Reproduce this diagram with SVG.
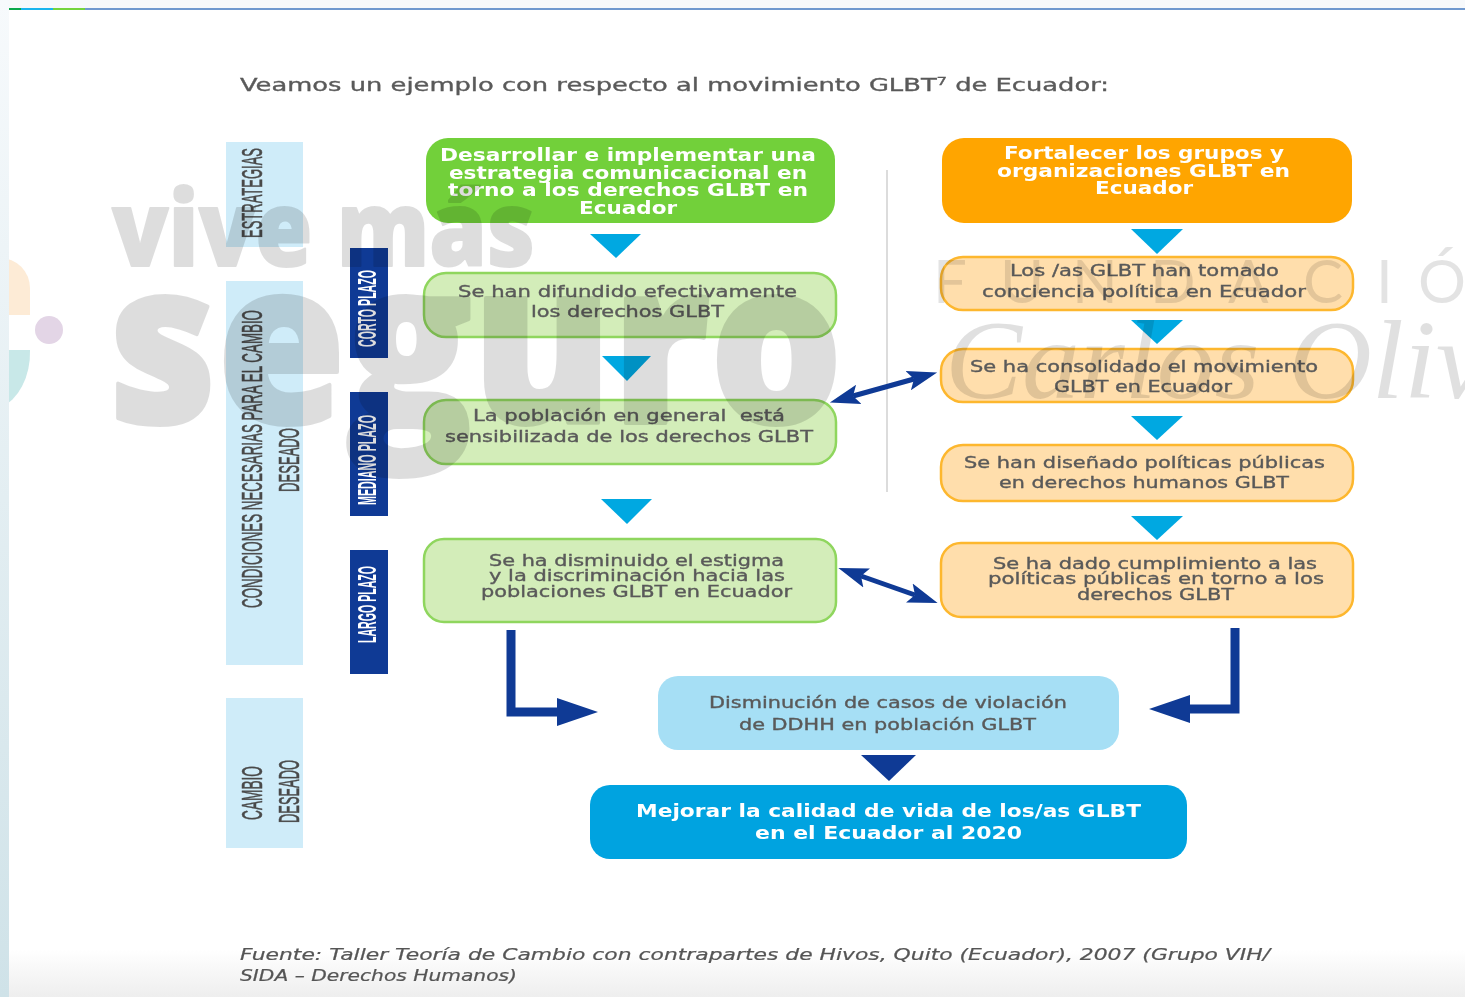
<svg xmlns="http://www.w3.org/2000/svg" width="1465" height="997" viewBox="0 0 1465 997">
<defs>
<style>
text{font-family:"DejaVu Sans",Verdana,sans-serif}
.b{font-size:15px;fill:#5a5a5a;stroke:#5a5a5a;stroke-width:.35px}
.w{font-size:17px;font-weight:700;fill:#fff}
.c{font-family:"Liberation Sans",Arial,sans-serif;font-size:29px;fill:#4a4a4a;stroke:#4a4a4a;stroke-width:.6px}
.n{font-family:"Liberation Sans",Arial,sans-serif;font-size:25px;font-weight:700;fill:#fff}
.f{font-size:15px;font-style:italic;fill:#555;stroke:#555;stroke-width:.2px}
.p{fill:#cfecf9}.d{fill:#0f3a95}.t{fill:#00a8e1}
.g{fill:#d3edb9;stroke:#8fd65e;stroke-width:2.5}
.o{fill:#ffdeac;stroke:#fdb72e;stroke-width:2.5}
.l{fill:none;stroke:#0f3a95;stroke-width:5}
.L{fill:none;stroke:#0f3a95;stroke-width:9;stroke-linejoin:miter}
.wm{opacity:.13}
.m{font-family:"Open Sans",sans-serif;font-weight:800;fill:#000;stroke:#000;stroke-linejoin:round}
.z{font-family:"Lato",sans-serif;font-weight:400;font-size:60px;fill:#000;fill-opacity:.11}
.s{font-family:"Liberation Serif",serif;font-style:italic;font-size:112px;fill:#000;fill-opacity:.12}
.x{filter:url(#soft)}
</style>
<filter id="soft" x="-5%" y="-5%" width="110%" height="110%"><feGaussianBlur stdDeviation="0.55"/></filter>
<linearGradient id="side" x1="0" y1="0" x2="0" y2="1"><stop offset="0" stop-color="#f7fafc"/><stop offset="1" stop-color="#cfe2e8"/></linearGradient>
<linearGradient id="foot" x1="0" y1="0" x2="0" y2="1"><stop offset="0" stop-color="#fff"/><stop offset="1" stop-color="#eeeeee"/></linearGradient>
<marker id="h" markerUnits="userSpaceOnUse" markerWidth="34" markerHeight="22" refX="6" refY="11" orient="auto-start-reverse"><path d="M0 1L30 11L0 21L6 11Z" fill="#0f3a95"/></marker>
<marker id="H" markerUnits="userSpaceOnUse" markerWidth="44" markerHeight="30" refX="1" refY="14" orient="auto"><path d="M0 0L41 14L0 28Z" fill="#0f3a95"/></marker>
</defs>
<rect width="1465" height="997" fill="#fff"/>
<rect y="950" width="1465" height="47" fill="url(#foot)"/>
<rect width="1465" height="8" fill="#f7f9fb"/>
<rect x="85" y="8" width="1380" height="2" fill="#7099cf"/>
<rect x="9" y="8" width="12" height="2" fill="#0aa84a"/>
<rect x="21" y="8" width="32" height="2" fill="#19b5ee"/>
<rect x="53" y="8" width="32" height="2" fill="#74d43c"/>
<g id="brand-dots">
<path d="M0 258A30 30 0 0 1 30 288V315H0Z" fill="#fdebd6"/>
<path d="M0 350H30A42 58 0 0 1 0 408Z" fill="#c8e8e8"/>
<circle cx="49" cy="330" r="14" fill="#e3d5e6"/>
</g>
<rect width="9" height="997" fill="url(#side)"/>
<g id="band-estrategias"><rect class="p" x="226" y="142" width="77" height="105"/><text class="c x" transform="translate(262,238) rotate(-90)" textLength="90" lengthAdjust="spacingAndGlyphs">ESTRATEGIAS</text></g>
<g id="band-condiciones"><rect class="p" x="226" y="281" width="77" height="384"/><text class="c x" transform="translate(262,608) rotate(-90)" textLength="298" lengthAdjust="spacingAndGlyphs">CONDICIONES NECESARIAS PARA EL CAMBIO</text><text class="c x" transform="translate(299,492) rotate(-90)" textLength="64" lengthAdjust="spacingAndGlyphs">DESEADO</text></g>
<g id="band-cambio"><rect class="p" x="226" y="698" width="77" height="150"/><text class="c x" transform="translate(262,820) rotate(-90)" textLength="54" lengthAdjust="spacingAndGlyphs">CAMBIO</text><text class="c x" transform="translate(299,823) rotate(-90)" textLength="63" lengthAdjust="spacingAndGlyphs">DESEADO</text></g>
<g id="term-corto"><rect class="d" x="350" y="248" width="38" height="110"/><text class="n x" transform="translate(376,347) rotate(-90)" textLength="77" lengthAdjust="spacingAndGlyphs">CORTO PLAZO</text></g>
<g id="term-mediano"><rect class="d" x="350" y="392" width="38" height="124"/><text class="n x" transform="translate(376,505) rotate(-90)" textLength="90" lengthAdjust="spacingAndGlyphs">MEDIANO PLAZO</text></g>
<g id="term-largo"><rect class="d" x="350" y="550" width="38" height="124"/><text class="n x" transform="translate(376,643) rotate(-90)" textLength="77" lengthAdjust="spacingAndGlyphs">LARGO PLAZO</text></g>
<text class="b x" x="240" y="91" style="font-size:18px" textLength="869" lengthAdjust="spacingAndGlyphs">Veamos un ejemplo con respecto al movimiento GLBT⁷ de Ecuador:</text>
<rect x="886" y="170" width="2" height="322" fill="#dcdcdc"/>
<g id="connectors">
<path class="t" d="M590 234H641L616 258Z"/><path class="t" d="M602 356H651L627 381Z"/><path class="t" d="M601 499H652L627 524Z"/>
<path class="t" d="M1131 229H1183L1157 254Z"/><path class="t" d="M1131 320H1183L1157 344Z"/><path class="t" d="M1131 416H1183L1157 440Z"/><path class="t" d="M1131 516H1183L1157 540Z"/>
<path class="d" d="M861 755H916L889 781Z"/>
<path class="l" d="M853 396L914 379" marker-start="url(#h)" marker-end="url(#h)"/>
<path class="l" d="M861 576L915 595" marker-start="url(#h)" marker-end="url(#h)"/>
<path class="L" d="M511 630V712H558" marker-end="url(#H)"/>
<path class="L" d="M1235 628V709H1189" marker-end="url(#H)"/>
</g>
<g id="n1"><rect x="426" y="138" width="409" height="85" rx="22" fill="#72d03a"/><g class="x"><text class="w" x="440" y="161" textLength="376" lengthAdjust="spacingAndGlyphs">Desarrollar e implementar una</text><text class="w" x="449" y="179" textLength="358" lengthAdjust="spacingAndGlyphs">estrategia comunicacional en</text><text class="w" x="448" y="196" textLength="360" lengthAdjust="spacingAndGlyphs">torno a los derechos GLBT en</text><text class="w" x="579" y="214" textLength="98" lengthAdjust="spacingAndGlyphs">Ecuador</text></g></g>
<g id="n2"><rect x="942" y="138" width="410" height="85" rx="22" fill="#ffa500"/><g class="x"><text class="w" x="1004" y="159" textLength="280" lengthAdjust="spacingAndGlyphs">Fortalecer los grupos y</text><text class="w" x="997" y="177" textLength="293" lengthAdjust="spacingAndGlyphs">organizaciones GLBT en</text><text class="w" x="1095" y="194" textLength="98" lengthAdjust="spacingAndGlyphs">Ecuador</text></g></g>
<g id="n3"><rect class="g" x="424" y="273" width="412" height="64" rx="22"/><g class="x"><text class="b" x="458" y="297" textLength="339" lengthAdjust="spacingAndGlyphs">Se han difundido efectivamente</text><text class="b" x="531" y="317" textLength="193" lengthAdjust="spacingAndGlyphs">los derechos GLBT</text></g></g>
<g id="n4"><rect class="g" x="424" y="400" width="412" height="64" rx="22"/><g class="x"><text class="b" x="473" y="421" textLength="312" lengthAdjust="spacingAndGlyphs" xml:space="preserve">La población en general  está</text><text class="b" x="445" y="442" textLength="368" lengthAdjust="spacingAndGlyphs">sensibilizada de los derechos GLBT</text></g></g>
<g id="n5"><rect class="g" x="424" y="539" width="412" height="83" rx="20"/><g class="x"><text class="b" x="489" y="566" textLength="295" lengthAdjust="spacingAndGlyphs">Se ha disminuido el estigma</text><text class="b" x="489" y="581" textLength="296" lengthAdjust="spacingAndGlyphs">y la discriminación hacia las</text><text class="b" x="481" y="597" textLength="311" lengthAdjust="spacingAndGlyphs">poblaciones GLBT en Ecuador</text></g></g>
<g id="n6"><rect class="o" x="941" y="257" width="412" height="53" rx="22"/><g class="x"><text class="b" x="1010" y="276" textLength="269" lengthAdjust="spacingAndGlyphs">Los /as GLBT han tomado</text><text class="b" x="982" y="297" textLength="324" lengthAdjust="spacingAndGlyphs">conciencia política en Ecuador</text></g></g>
<g id="n7"><rect class="o" x="941" y="349" width="412" height="53" rx="22"/><g class="x"><text class="b" x="970" y="372" textLength="348" lengthAdjust="spacingAndGlyphs">Se ha consolidado el movimiento</text><text class="b" x="1054" y="392" textLength="178" lengthAdjust="spacingAndGlyphs">GLBT en Ecuador</text></g></g>
<g id="n8"><rect class="o" x="941" y="445" width="412" height="56" rx="22"/><g class="x"><text class="b" x="964" y="468" textLength="361" lengthAdjust="spacingAndGlyphs">Se han diseñado políticas públicas</text><text class="b" x="999" y="488" textLength="290" lengthAdjust="spacingAndGlyphs">en derechos humanos GLBT</text></g></g>
<g id="n9"><rect class="o" x="941" y="543" width="412" height="74" rx="20"/><g class="x"><text class="b" x="993" y="569" textLength="324" lengthAdjust="spacingAndGlyphs">Se ha dado cumplimiento a las</text><text class="b" x="988" y="584" textLength="336" lengthAdjust="spacingAndGlyphs">políticas públicas en torno a los</text><text class="b" x="1077" y="600" textLength="157" lengthAdjust="spacingAndGlyphs">derechos GLBT</text></g></g>
<g id="n10"><rect x="658" y="676" width="461" height="74" rx="20" fill="#a6dff5"/><g class="x"><text class="b" x="709" y="708" textLength="358" lengthAdjust="spacingAndGlyphs">Disminución de casos de violación</text><text class="b" x="739" y="730" textLength="297" lengthAdjust="spacingAndGlyphs">de DDHH en población GLBT</text></g></g>
<g id="n11"><rect x="590" y="785" width="597" height="74" rx="20" fill="#00a3e0"/><g class="x"><text class="w" x="636" y="817" textLength="505" lengthAdjust="spacingAndGlyphs">Mejorar la calidad de vida de los/as GLBT</text><text class="w" x="755" y="839" textLength="267" lengthAdjust="spacingAndGlyphs">en el Ecuador al 2020</text></g></g>
<g class="x"><text class="f" x="240" y="960" textLength="1030" lengthAdjust="spacingAndGlyphs">Fuente: Taller Teoría de Cambio con contrapartes de Hivos, Quito (Ecuador), 2007 (Grupo VIH/</text><text class="f" x="240" y="981" textLength="277" lengthAdjust="spacingAndGlyphs">SIDA – Derechos Humanos)</text></g>
<g id="watermark">
<g class="wm">
<text class="m" x="112" y="266" style="font-size:104px;stroke-width:2px" textLength="423" lengthAdjust="spacingAndGlyphs">vive más</text>
<text class="m" x="109" y="423" style="font-size:226px;stroke-width:4px" textLength="734" lengthAdjust="spacingAndGlyphs">seguro</text>
</g>
<text class="z" x="933 1000 1072 1150 1228 1303 1376 1418" y="303">FUNDACIÓ</text>
<text class="s" x="945" y="398" textLength="600" lengthAdjust="spacingAndGlyphs">Carlos Oliva</text>
</g>
</svg>
